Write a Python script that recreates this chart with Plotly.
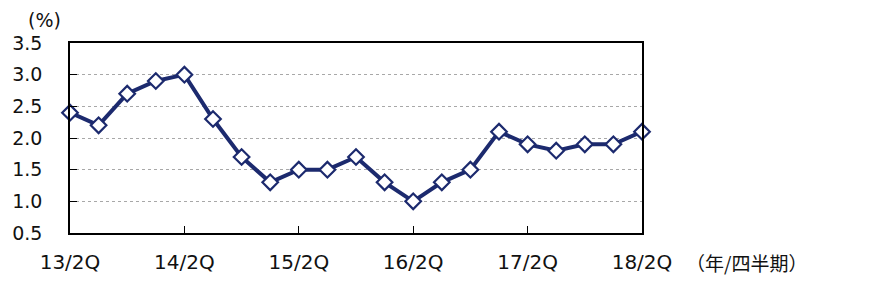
import plotly.graph_objects as go

quarters = ["13/2Q", "13/3Q", "13/4Q", "14/1Q",
            "14/2Q", "14/3Q", "14/4Q", "15/1Q",
            "15/2Q", "15/3Q", "15/4Q", "16/1Q",
            "16/2Q", "16/3Q", "16/4Q", "17/1Q",
            "17/2Q", "17/3Q", "17/4Q", "18/1Q",
            "18/2Q"]
values = [2.4, 2.2, 2.7, 2.9,
          3.0, 2.3, 1.7, 1.3,
          1.5, 1.5, 1.7, 1.3,
          1.0, 1.3, 1.5, 2.1,
          1.9, 1.8, 1.9, 1.9,
          2.1]
y_ticks = [0.5, 1.0, 1.5, 2.0, 2.5, 3.0, 3.5]

xs = list(range(len(quarters)))
tick_idx = [i for i, q in enumerate(quarters) if q.endswith("/2Q")]
tick_txt = [quarters[i] for i in tick_idx]

navy = "#1C2A6E"
font = "DejaVu Sans, Verdana, sans-serif"

fig = go.Figure()
fig.add_trace(go.Scatter(
    x=xs, y=values, mode="lines+markers",
    line=dict(color=navy, width=4),
    marker=dict(symbol="diamond", size=12, color="white",
                line=dict(color=navy, width=2.2)),
    cliponaxis=False, showlegend=False,
))

fig.update_layout(
    width=870, height=308,
    margin=dict(l=64, r=228, t=43, b=75),
    paper_bgcolor="white", plot_bgcolor="white",
    font=dict(family=font, size=19, color="#111111"),
    xaxis=dict(
        range=[0, len(quarters) - 1],
        tickvals=tick_idx, ticktext=tick_txt,
        ticks="inside", ticklen=7, tickcolor="black", tickwidth=1.2,
        showgrid=False, zeroline=False,
        showline=True, mirror=True, linecolor="black", linewidth=1.5,
        ticklabelstandoff=10,
        tickfont=dict(family=font, size=20, color="#111111"),
    ),
    yaxis=dict(
        range=[0.5, 3.5],
        tickvals=y_ticks, ticktext=[f"{v:.1f}" for v in y_ticks],
        ticks="inside", ticklen=7, tickcolor="black", tickwidth=1.2,
        showgrid=True, gridcolor="#a8a8a8", griddash="dot", gridwidth=1,
        zeroline=False,
        showline=True, mirror=True, linecolor="black", linewidth=1.5,
        ticklabelstandoff=22,
        tickfont=dict(family=font, size=19, color="#111111"),
    ),
    annotations=[
        dict(text="(%)", xref="paper", yref="paper", x=-64/578 + 20/578, y=1 + 23/190,
             xanchor="left", yanchor="middle", showarrow=False,
             font=dict(family=font, size=19, color="#111111")),
        dict(text="（年/四半期）", xref="paper", yref="paper", x=1 + 42/578, y=-29/190,
             xanchor="left", yanchor="middle", showarrow=False,
             font=dict(family="Noto Sans CJK JP", size=19, color="#111111")),
    ],
)

fig.write_html("out.html")
